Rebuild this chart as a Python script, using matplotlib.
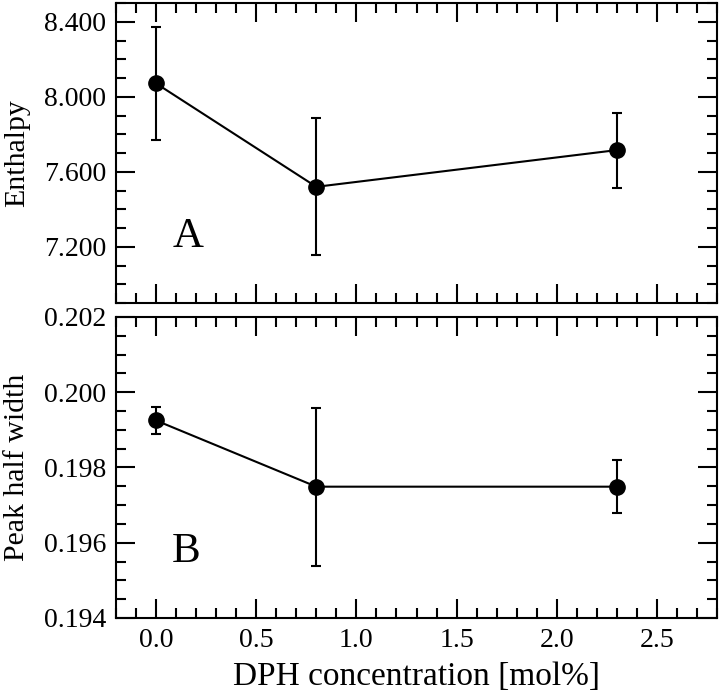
import matplotlib
matplotlib.use("Agg")
import matplotlib.pyplot as plt
from matplotlib.ticker import MultipleLocator, FormatStrFormatter

# DPH concentration [mol%]
conc = [0.0, 0.8, 2.3]

# panel A: enthalpy
enthalpy = [8.072, 7.52, 7.716]
enthalpy_err = [0.30, 0.365, 0.20]

# panel B: peak half width
halfwidth = [0.19925, 0.19749, 0.19749]
halfwidth_err = [0.00035, 0.0021, 0.0007]

plt.rcParams["font.family"] = ["Liberation Serif", "DejaVu Serif"]

fig = plt.figure(figsize=(7.2, 6.99), dpi=100)
axA = fig.add_axes([0.161, 0.5665, 0.835, 0.429])
axB = fig.add_axes([0.161, 0.1159, 0.835, 0.4306])


def style(ax):
    for s in ax.spines.values():
        s.set_linewidth(1.5)
    ax.tick_params(which="both", direction="in", top=True, right=True,
                   width=1.5, labelsize=20, pad=7)
    ax.tick_params(which="major", length=14)
    ax.tick_params(which="minor", length=7)
    ax.set_xlim(-0.2, 2.8)
    ax.xaxis.set_major_locator(MultipleLocator(0.5))
    ax.xaxis.set_minor_locator(MultipleLocator(0.1))
    ax.xaxis.set_major_formatter(FormatStrFormatter("%.1f"))


def draw(ax, y, yerr):
    ax.errorbar(conc, y, yerr=yerr, color="black", lw=1.5, elinewidth=1.5,
                capsize=3.6, capthick=1.5, marker="o", markersize=11)


draw(axA, enthalpy, enthalpy_err)
style(axA)
axA.set_ylim(6.9, 8.5)
axA.yaxis.set_major_locator(MultipleLocator(0.4))
axA.yaxis.set_minor_locator(MultipleLocator(0.1))
axA.yaxis.set_major_formatter(FormatStrFormatter("%.3f"))
axA.tick_params(labelbottom=False)
axA.set_ylabel("Enthalpy", fontsize=21.5)
axA.yaxis.set_label_coords(-0.143, 0.5)
axA.text(0.085, 7.2, "A", fontsize=31, ha="left", va="baseline")

draw(axB, halfwidth, halfwidth_err)
style(axB)
axB.set_ylim(0.194, 0.202)
axB.yaxis.set_major_locator(MultipleLocator(0.002))
axB.yaxis.set_minor_locator(MultipleLocator(0.0005))
axB.yaxis.set_major_formatter(FormatStrFormatter("%.3f"))
axB.set_ylabel("Peak half width", fontsize=21.5)
axB.yaxis.set_label_coords(-0.143, 0.5)
axB.set_xlabel("DPH concentration [mol%]", fontsize=24, labelpad=6)
axB.text(0.08, 0.19549, "B", fontsize=31, ha="left", va="baseline")

fig.savefig("out.png", dpi=100)
